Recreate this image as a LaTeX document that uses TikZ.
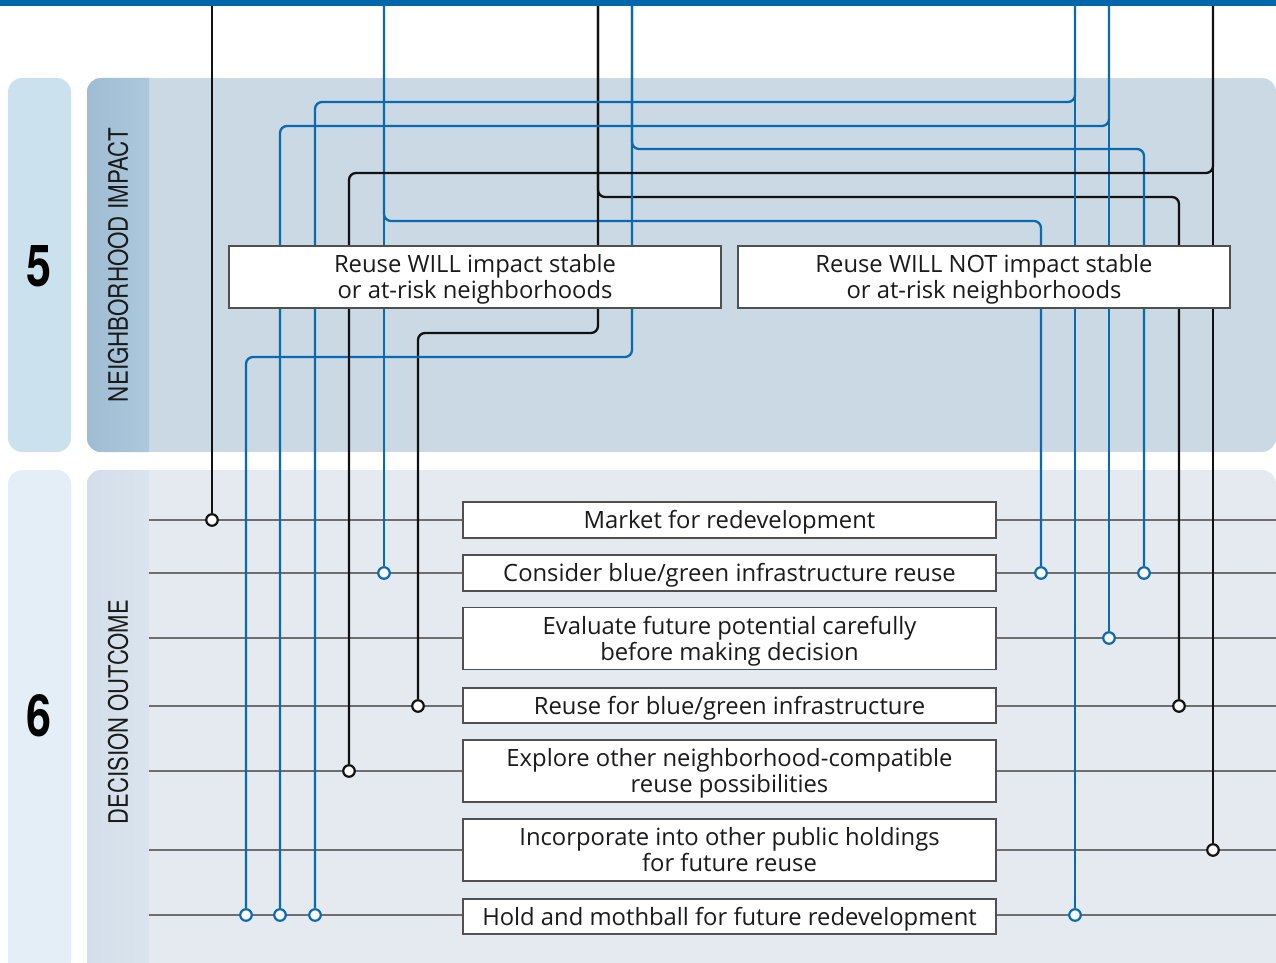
\documentclass[tikz,border=0pt]{standalone}
\usepackage{fontspec}
\setmainfont{Open Sans}
\newfontfamily\heros{TeX Gyre Heros}
\definecolor{topblue}{HTML}{0067AC}
\definecolor{lnblue}{HTML}{0A6AB0}
\definecolor{lnblack}{HTML}{111111}
\definecolor{gridgrey}{HTML}{6E6E6E}
\definecolor{boxgrey}{HTML}{505050}
\definecolor{numA}{HTML}{CCE1EE}
\definecolor{numB}{HTML}{E3EEF6}
\definecolor{mainA}{HTML}{CAD9E4}
\definecolor{mainB}{HTML}{E4EAF0}
\definecolor{stripAl}{HTML}{9FBCD3}
\definecolor{stripAr}{HTML}{ADC8DC}
\definecolor{stripBl}{HTML}{D2DEE9}
\definecolor{stripBr}{HTML}{DAE4EE}
\definecolor{txt}{HTML}{1A1A1A}
% one line: box = cap height only; two lines: cap top of line 1 to baseline of line 2
\newcommand\oneln[1]{\raisebox{0pt}[17pt][0pt]{#1}}
\newcommand\twoln[2]{\raisebox{0pt}[17pt][26pt]{\vtop{\baselineskip=26pt\lineskiplimit=-20pt\halign{\hfil##\hfil\cr #1\cr #2\cr}}}}
\tikzset{
  boxfont/.style={font=\fontsize{23.8}{26}\selectfont, text=txt},
  outbox/.style={draw=boxgrey, line width=1.3pt, fill=white, boxfont,
    minimum width=533pt, inner sep=0pt},
  impbox/.style={draw=boxgrey, line width=1.3pt, fill=white, boxfont,
    minimum width=492pt, minimum height=62pt, inner sep=0pt},
  blueln/.style={draw=lnblue, line width=2.3pt, rounded corners=7pt},
  blackln/.style={draw=lnblack, line width=2.3pt, rounded corners=7pt},
  gridln/.style={draw=gridgrey, line width=2pt},
  dotb/.style={circle, draw=lnblue, fill=white, line width=2.2pt, minimum size=11.5pt, inner sep=0pt},
  dotk/.style={circle, draw=lnblack, fill=white, line width=2.2pt, minimum size=11.5pt, inner sep=0pt},
  sidelbl/.style={inner sep=0pt, text=txt, rotate=90},
  numlbl/.style={inner sep=0pt, text=black},
}
\begin{document}
\begin{tikzpicture}[x=1pt, y=-1pt]
\useasboundingbox (0,0) rectangle (1276,963);
% ---------- panels ----------
\fill[numA, rounded corners=14pt] (8,78) rectangle (71,452);
\fill[numB, rounded corners=14pt] (8,470) rectangle (71,975);
\begin{scope}
  \clip[rounded corners=14pt] (87,78) rectangle (1276,452);
  \fill[mainA] (87,78) rectangle (1276,452);
  \shade[left color=stripAl, right color=stripAr] (87,78) rectangle (149,452);
\end{scope}
\begin{scope}
  \clip[rounded corners=14pt] (87,470) rectangle (1276,975);
  \fill[mainB] (87,470) rectangle (1276,975);
  \shade[left color=stripBl, right color=stripBr] (87,470) rectangle (149,975);
\end{scope}
% ---------- side labels ----------
\node[numlbl] (n5) at (39.5,266.5) {\resizebox{25pt}{41pt}{\heros\bfseries 5}};
\node[numlbl] (n6) at (39.5,715.5) {\resizebox{25pt}{42pt}{\heros\bfseries 6}};
\node[sidelbl] (lbl5) at (118,265) {\resizebox{274pt}{20pt}{\heros NEIGHBORHOOD IMPACT}};
\node[sidelbl] (lbl6) at (118,712) {\resizebox{224pt}{20pt}{\heros DECISION OUTCOME}};
% ---------- grid lines ----------
\foreach \i/\y in {1/520, 2/573, 3/638, 4/706, 5/771, 6/850, 7/915} {
  \coordinate (gL\i) at (149,\y);
  \coordinate (gR\i) at (1276,\y);
  \draw[gridln] (gL\i) -- (gR\i);
}
% ---------- outcome boxes ----------
\node[outbox, minimum height=36pt] (o1) at (729.5,520) {\oneln{Market for redevelopment}};
\node[outbox, minimum height=36pt] (o2) at (729.5,573) {\oneln{Consider blue/green infrastructure reuse}};
\node[outbox, minimum height=62pt] (o3) at (729.5,638.5) {\twoln{Evaluate future potential carefully}{before making decision}};
\node[outbox, minimum height=35pt] (o4) at (729.5,705.5) {\oneln{Reuse for blue/green infrastructure}};
\node[outbox, minimum height=62pt] (o5) at (729.5,771) {\twoln{Explore other neighborhood-compatible}{reuse possibilities}};
\node[outbox, minimum height=62pt] (o6) at (729.5,850) {\twoln{Incorporate into other public holdings}{for future reuse}};
\node[outbox, minimum height=35pt] (o7) at (729.5,916.5) {\oneln{Hold and mothball for future redevelopment}};
% ---------- top entry points ----------
\coordinate (t1) at (212,0);
\coordinate (t2) at (384,0);
\coordinate (t3) at (598,0);
\coordinate (t4) at (632,0);
\coordinate (t5) at (1075,0);
\coordinate (t6) at (1109,0);
\coordinate (t7) at (1213,0);
% ---------- outcome dots ----------
\node[dotk] (d1) at (212,520) {};
\node[dotb] (d2a) at (384,573) {};
\node[dotb] (d2b) at (1041,573) {};
\node[dotk] (d3a) at (418,706) {};
\node[dotk] (d3b) at (1179,706) {};
\node[dotb] (d4a) at (246,915) {};
\node[dotb] (d4b) at (1144,573) {};
\node[dotb] (d5a) at (315,915) {};
\node[dotb] (d5b) at (1075,915) {};
\node[dotb] (d6a) at (280,915) {};
\node[dotb] (d6b) at (1109,638) {};
\node[dotk] (d7a) at (349,771) {};
\node[dotk] (d7b) at (1213,850) {};
% ---------- turn points ----------
\coordinate (k2a) at (384,221);  \coordinate (k2b) at (1041,221);
\coordinate (k3a) at (598,333);  \coordinate (k3b) at (418,333);
\coordinate (k3c) at (598,197);  \coordinate (k3d) at (1179,197);
\coordinate (k4a) at (632,357);  \coordinate (k4b) at (246,357);
\coordinate (k4c) at (632,149);  \coordinate (k4d) at (1144,149);
\coordinate (k5a) at (1075,102); \coordinate (k5b) at (315,102);
\coordinate (k6a) at (1109,126); \coordinate (k6b) at (280,126);
\coordinate (k7a) at (1213,173); \coordinate (k7b) at (349,173);
% ---------- connectors ----------
\draw[blackln] (t1) -- (d1);
\draw[blueln] (t2) -- (d2a);
\draw[blueln] (t2) -- (k2a) -- (k2b) -- (d2b);
\draw[blackln] (t3) -- (k3a) -- (k3b) -- (d3a);
\draw[blackln] (t3) -- (k3c) -- (k3d) -- (d3b);
\draw[blueln] (t4) -- (k4a) -- (k4b) -- (d4a);
\draw[blueln] (t4) -- (k4c) -- (k4d) -- (d4b);
\draw[blueln] (t5) -- (d5b);
\draw[blueln] (t5) -- (k5a) -- (k5b) -- (d5a);
\draw[blueln] (t6) -- (d6b);
\draw[blueln] (t6) -- (k6a) -- (k6b) -- (d6a);
\draw[blackln] (t7) -- (d7b);
\draw[blackln] (t7) -- (k7a) -- (k7b) -- (d7a);
% ---------- impact boxes ----------
\node[impbox] (will) at (475,277) {\twoln{Reuse WILL impact stable}{or at-risk neighborhoods}};
\node[impbox] (willnot) at (984,277) {\twoln{Reuse WILL NOT impact stable}{or at-risk neighborhoods}};
% ---------- top bar ----------
\fill[topblue] (0,0) rectangle (1276,6);
\end{tikzpicture}
\end{document}
